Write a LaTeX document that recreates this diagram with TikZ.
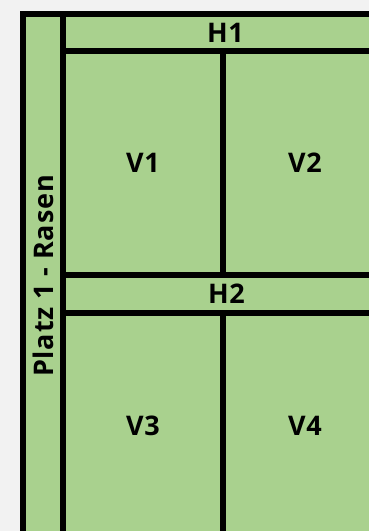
\documentclass[tikz,border=0pt]{standalone}
\usepackage{fontspec}
\setmainfont{Open Sans}
\newfontfamily\lblfont{Open Sans}[LetterSpace=3]
\definecolor{bgc}{HTML}{F2F2F2}
\definecolor{field}{HTML}{A9D18E}
\tikzset{
  x=1pt, y=-1pt,
  sep/.style={line width=6pt, draw=black},
  lbl/.style={font=\lblfont\fontsize{27}{30}\selectfont\bfseries, inner sep=0pt, anchor=center}
}
\begin{document}
\begin{tikzpicture}
\useasboundingbox (0,0) rectangle (369,531);
\fill[bgc] (0,0) rectangle (369,531);
\clip (0,0) rectangle (369,531);
% field with outer border
\draw[sep, fill=field] (23,14) rectangle (386,540);
% left strip separator
\draw[sep] (63,17) -- (63,540);
% H1 bottom line
\draw[sep] (66,51) -- (386,51);
% H2 lines
\draw[sep] (66,275) -- (386,275);
\draw[sep] (66,313) -- (386,313);
% vertical middle lines
\draw[sep] (222.5,54) -- (222.5,272);
\draw[sep] (222.5,316) -- (222.5,540);
% labels
\node[lbl] (h1) at (225.5,32.5) {H1};
\node[lbl] (h2) at (226.5,294) {H2};
\node[lbl] (v1) at (143,163) {V1};
\node[lbl] (v2) at (305,163) {V2};
\node[lbl] (v3) at (143,426) {V3};
\node[lbl] (v4) at (305,426) {V4};
\node[lbl, rotate=90] (platz) at (43,276) {Platz 1 - Rasen};
\end{tikzpicture}
\end{document}
